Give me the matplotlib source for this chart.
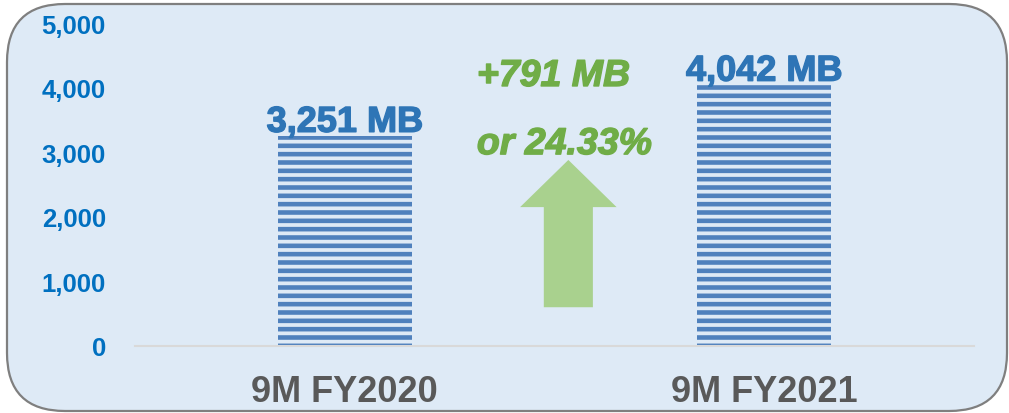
import matplotlib.pyplot as plt
import matplotlib.patheffects as pe
from matplotlib.patches import FancyBboxPatch, FancyArrow

categories = ['9M FY2020', '9M FY2021']
values = [3251, 4042]
value_labels = ['3,251 MB', '4,042 MB']
yticks = [0, 1000, 2000, 3000, 4000, 5000]
ytick_labels = ['0', '1,000', '2,000', '3,000', '4,000', '5,000']
growth_text = ['+791 MB', 'or 24.33%']

plt.rcParams['font.family'] = ['Liberation Sans', 'DejaVu Sans']
plt.rcParams['font.weight'] = 'bold'
plt.rcParams['hatch.linewidth'] = 3.3

bg = '#DEEAF6'
fig = plt.figure(figsize=(10.09, 4.14), dpi=100)

# rounded background panel, drawn in pixel coordinates
bgax = fig.add_axes([0, 0, 1, 1])
bgax.set_xlim(0, 1009)
bgax.set_ylim(414, 0)
bgax.axis('off')
panel = FancyBboxPatch((7, 5), 1000, 407, boxstyle='round,pad=0,rounding_size=58',
                       facecolor=bg, edgecolor='#7F7F7F', linewidth=1.6)
bgax.add_patch(panel)

ax = fig.add_axes([135 / 1009, 67 / 414, 839 / 1009, 323 / 414])
ax.patch.set_alpha(0)
x = range(len(categories))
ax.bar(x, values, width=0.32, facecolor='none', edgecolor='#4F81BD',
       linewidth=0, hatch='--')

def thick(c, w=1.0):
    return [pe.withStroke(linewidth=w, foreground=c)]

for i, v in enumerate(values):
    ax.annotate(value_labels[i], (i, v), xytext=(0, 3), textcoords='offset points',
                ha='center', va='baseline', fontsize=26, color='#2E75B6',
                fontweight='bold', path_effects=thick('#2E75B6'))

green = '#70AD47'
ax.text(0.315, 4025, growth_text[0], fontsize=27, color=green,
        style='italic', fontweight='bold', va='baseline', ha='left',
        path_effects=thick(green))
ax.text(0.315, 2970, growth_text[1], fontsize=27, color=green,
        style='italic', fontweight='bold', va='baseline', ha='left',
        path_effects=thick(green))

arrow = FancyArrow(0.533, 600, 0, 2280, width=0.117, head_width=0.23,
                   head_length=730, length_includes_head=True,
                   facecolor='#A9D18E', edgecolor='none')
ax.add_patch(arrow)

ax.set_xlim(-0.5, 1.5)
ax.set_ylim(0, 5000)
ax.set_yticks(yticks)
ax.set_yticklabels(ytick_labels)
ax.set_xticks(list(x))
ax.set_xticklabels(categories)
ax.tick_params(axis='y', length=0, pad=21, labelsize=18.5, labelcolor='#0070C0')
ax.tick_params(axis='x', length=0, pad=20, labelsize=26, labelcolor='#595959')
for lbl in ax.get_yticklabels() + ax.get_xticklabels():
    lbl.set_fontweight('bold')

for s in ['top', 'right', 'left']:
    ax.spines[s].set_visible(False)
ax.spines['bottom'].set_color('#D9D9D9')
ax.spines['bottom'].set_linewidth(1.5)

fig.savefig('out.png', dpi=100, facecolor='white')
